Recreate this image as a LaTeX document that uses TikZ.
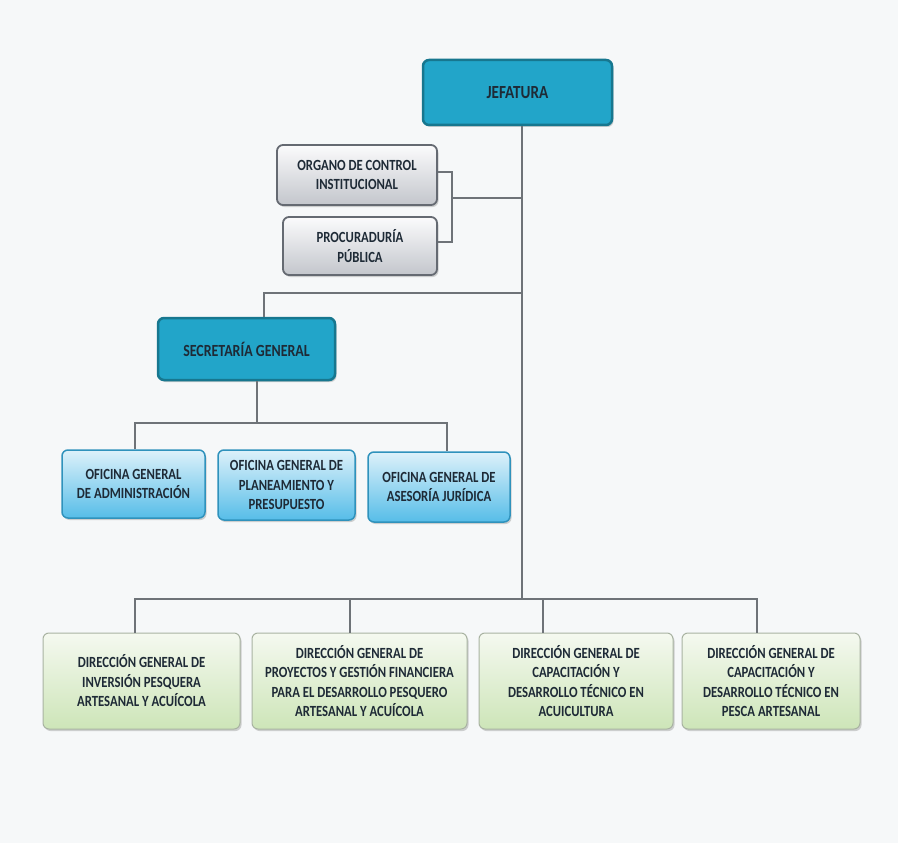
\documentclass[tikz,border=0pt]{standalone}
\usepackage{fontspec}
\setmainfont{Carlito}[FakeStretch=0.82]
\usetikzlibrary{shadows}
\definecolor{bg}{HTML}{F6F8F9}
\definecolor{teal1}{HTML}{22A5C9}
\definecolor{teal2}{HTML}{17778F}
\definecolor{txt}{HTML}{1E2A36}
\definecolor{lineg}{HTML}{6E7378}
\definecolor{bluetop}{HTML}{DDF1FA}
\definecolor{bluebot}{HTML}{56BDE8}
\definecolor{blueedge}{HTML}{2F92BC}
\definecolor{graytop}{HTML}{FBFBFC}
\definecolor{graybot}{HTML}{C3C6CC}
\definecolor{grayedge}{HTML}{656A72}
\definecolor{greentop}{HTML}{F5F9F0}
\definecolor{greenbot}{HTML}{CDE5B8}
\definecolor{greenedge}{HTML}{A9B3A2}
\tikzset{
  base/.style={rounded corners=6pt, align=center, inner sep=0pt, text=txt,
    font=\fontsize{15.5}{19.5}\selectfont\bfseries,
    drop shadow={shadow xshift=1.5pt, shadow yshift=-2pt, opacity=0.35}},
  headbox/.style={base, fill=teal1, draw=teal2, line width=2.5pt,
    font=\fontsize{17}{20}\selectfont\bfseries},
  graybox/.style={base, top color=graytop, bottom color=graybot, draw=grayedge, line width=1.8pt},
  bluebox/.style={base, top color=bluetop, bottom color=bluebot, draw=blueedge, line width=1.5pt},
  greenbox/.style={base, top color=greentop, bottom color=greenbot, draw=greenedge, line width=1pt},
  conn/.style={draw=lineg, line width=1.4pt}
}
\begin{document}
\begin{tikzpicture}[x=1pt,y=-1pt]
\fill[bg] (0,0) rectangle (898,843);
\useasboundingbox (0,0) rectangle (898,843);
% nodes
\node[headbox, minimum width=189pt, minimum height=65pt, font=\fontsize{18.5}{20}\selectfont\bfseries] (jef) at (517.5,92.5) {JEFATURA};
\node[graybox, minimum width=160pt, minimum height=60pt] (org) at (357,175) {ORGANO DE CONTROL\\INSTITUCIONAL};
\node[graybox, minimum width=154pt, minimum height=58pt] (proc) at (360,246) {PROCURADURÍA\\PÚBLICA};
\node[headbox, minimum width=177pt, minimum height=62pt] (sec) at (246.5,349) {SECRETARÍA GENERAL};
\node[bluebox, minimum width=143pt, minimum height=68pt] (of1) at (133.5,484) {OFICINA GENERAL\\DE ADMINISTRACIÓN};
\node[bluebox, minimum width=137pt, minimum height=70pt] (of2) at (286.5,485) {OFICINA GENERAL DE\\PLANEAMIENTO Y\\PRESUPUESTO};
\node[bluebox, minimum width=142pt, minimum height=70pt] (of3) at (439,487) {OFICINA GENERAL DE\\ASESORÍA JURÍDICA};
\node[greenbox, minimum width=197pt, minimum height=96pt] (d1) at (141.5,681) {DIRECCIÓN GENERAL DE\\INVERSIÓN PESQUERA\\ARTESANAL Y ACUÍCOLA};
\node[greenbox, minimum width=215pt, minimum height=96pt] (d2) at (359.5,681) {DIRECCIÓN GENERAL DE\\PROYECTOS Y GESTIÓN FINANCIERA\\PARA EL DESARROLLO PESQUERO\\ARTESANAL Y ACUÍCOLA};
\node[greenbox, minimum width=194pt, minimum height=96pt] (d3) at (576,681) {DIRECCIÓN GENERAL DE\\CAPACITACIÓN Y\\DESARROLLO TÉCNICO EN\\ACUICULTURA};
\node[greenbox, minimum width=178pt, minimum height=96pt] (d4) at (771,681) {DIRECCIÓN GENERAL DE\\CAPACITACIÓN Y\\DESARROLLO TÉCNICO EN\\PESCA ARTESANAL};
% coordinates
\coordinate (mtop) at (522,125);
\coordinate (mbot) at (522,599);
\coordinate (brTop) at (452,172);
\coordinate (brBot) at (452,242);
\coordinate (brMid) at (452,198);
\coordinate (secJ) at (522,293);
\coordinate (secT) at (264,293);
\coordinate (obus) at (257,423);
\coordinate (obL) at (135,423);
\coordinate (obR) at (447,423);
\coordinate (bL) at (135,599);
\coordinate (bR) at (757,599);
\coordinate (b2) at (350,599);
\coordinate (b3) at (543,599);
% connectors
\draw[conn] (jef.south -| mtop) -- (mbot);
\draw[conn] (org.east |- brTop) -- (brTop) -- (brBot) -- (proc.east |- brBot);
\draw[conn] (brMid) -- (brMid -| mtop);
\draw[conn] (secJ) -- (secT) -- (secT |- sec.north);
\draw[conn] (sec.south -| obus) -- (obus);
\draw[conn] (obL |- of1.north) -- (obL) -- (obR) -- (obR |- of3.north);
\draw[conn] (bL |- d1.north) -- (bL) -- (bR) -- (bR |- d4.north);
\draw[conn] (b2) -- (b2 |- d2.north);
\draw[conn] (b3) -- (b3 |- d3.north);
\end{tikzpicture}
\end{document}
